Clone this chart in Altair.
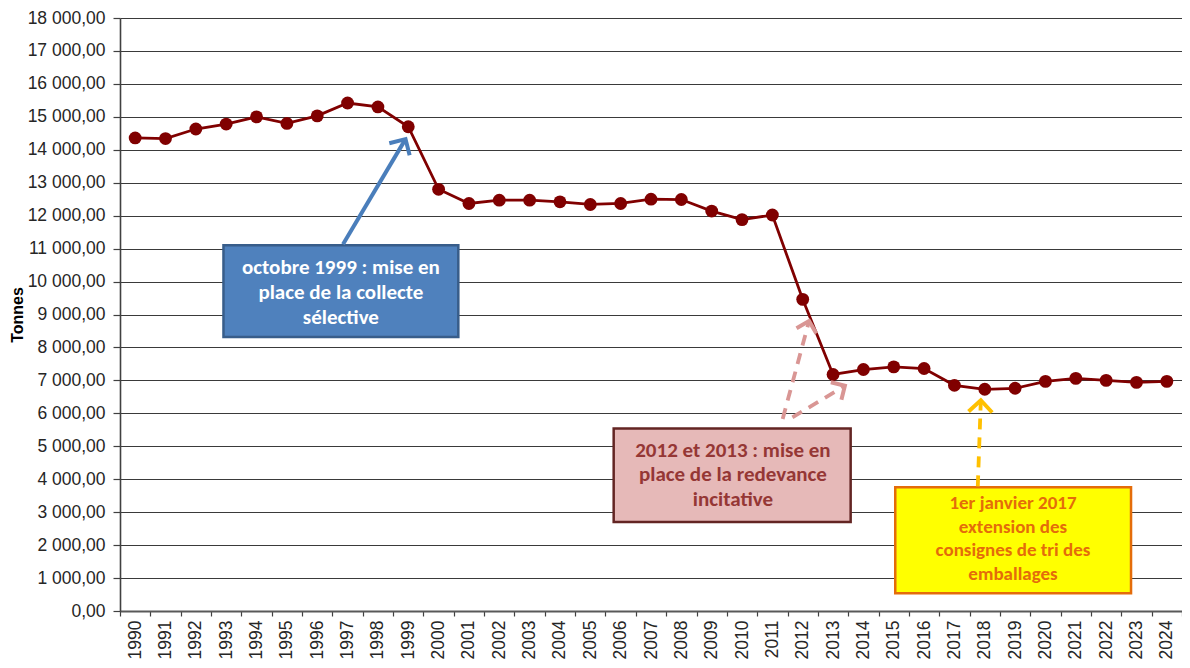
import altair as alt
import pandas as pd

# ---- data ----
years = [str(y) for y in range(1990, 2025)]
tonnes = [14360, 14340, 14630, 14780, 15000, 14800, 15030, 15420, 15300, 14700,
          12800, 12370, 12470, 12470, 12420, 12340, 12370, 12500, 12490, 12140,
          11880, 12020, 9460, 7180, 7330, 7410, 7360, 6850, 6730, 6760,
          6970, 7060, 7000, 6940, 6970]

# annotation boxes (in year / tonnes coordinates)
box_x1 = [1992.91, 2005.77, 2015.05]
box_x2 = [2000.65, 2013.58, 2022.82]
box_y1 = [11102, 5536, 3760]
box_y2 = [8319, 2701, 535]
box_fill = ["#4F81BD", "#E6B9B8", "#FFFF00"]
box_stroke = ["#385D8A", "#632523", "#E46C0A"]

# annotation texts
txt_lines = ["octobre 1999 : mise en", "place de la collecte", "sélective",
             "2012 et 2013 : mise en", "place de la redevance", "incitative",
             "1er janvier 2017", "extension des", "consignes de tri des", "emballages"]
txt_x = [1996.78] * 3 + [2009.70] * 3 + [2018.93] * 4
txt_y = [10415, 9659, 8885, 4871, 4114, 3358, 3267, 2556, 1845, 1134]
txt_color = ["#FFFFFF"] * 3 + ["#953735"] * 3 + ["#E46C0A"] * 4
txt_size = [21] * 6 + [19] * 4

# arrows: tail -> tip
arr_x1 = [1996.85, 2011.34, 2011.66, 2017.77]
arr_y1 = [11133, 5830, 5878, 3782]
arr_x2 = [1998.91, 2012.21, 2013.39, 2017.87]
arr_y2 = [14324, 8803, 6837, 6398]
arr_angle = [30.8, 15.1, 58.9, 2.2]
arr_color = ["#4A7EBB", "#D99694", "#D99694", "#FFC000"]
arr_size = [560, 420, 420, 560]
arr_dashed = [False, True, True, True]

df = pd.DataFrame({"year": years, "tonnes": tonnes})
boxes = pd.DataFrame({"x1": box_x1, "x2": box_x2, "y1": box_y1, "y2": box_y2,
                      "fill": box_fill, "stroke": box_stroke})
texts = pd.DataFrame({"x": txt_x, "y": txt_y, "t": txt_lines, "c": txt_color,
                      "fs": txt_size})
arrows = pd.DataFrame({"x1": arr_x1, "y1": arr_y1, "x2": arr_x2, "y2": arr_y2,
                       "angle": arr_angle, "c": arr_color, "s": arr_size,
                       "dashed": arr_dashed})

W, H = 1062, 593
LABEL_FONT = "Liberation Sans"
BOX_FONT = "Carlito, Lato, sans-serif"

yscale = alt.Scale(domain=[0, 18000], nice=False)
yaxis = alt.Axis(
    values=list(range(0, 18001, 1000)), labelOverlap=False,
    labelExpr="replace(replace(format(datum.value, ',.2f'), ',', ' '), '.', ',')",
    title="Tonnes", titleFont=LABEL_FONT, titleFontSize=16, titleFontWeight="bold",
    titleColor="#000000", titlePadding=2,
    grid=True, gridColor="#3A3A3A", gridWidth=1.2,
    domainColor="#404040", domainWidth=1.6, tickColor="#404040", tickWidth=1.2,
    tickSize=7, labelFont=LABEL_FONT, labelFontSize=17.5, labelColor="#262626",
    labelPadding=8,
)
xaxis = alt.Axis(
    title=None, labelAngle=270, tickBand="extent", grid=False, labelOverlap=False,
    labelFont=LABEL_FONT, labelFontSize=17.5, labelColor="#262626", labelPadding=4,
    tickSize=5, tickColor="#404040", tickWidth=1.2,
    domainColor="#595959", domainWidth=2,
)
xband = alt.X("year:N", scale=alt.Scale(paddingInner=0, paddingOuter=0), axis=xaxis,
              sort=years)


def Y(field):
    return alt.Y(field, scale=yscale, axis=yaxis)


line = alt.Chart(df).mark_line(color="#800000", strokeWidth=2.8).encode(
    x=xband, y=Y("tonnes:Q"))
pts = alt.Chart(df).mark_point(filled=True, opacity=1, color="#800000", size=165).encode(
    x=xband, y=Y("tonnes:Q"))
data_layer = alt.layer(line, pts)

xq = alt.Scale(domain=[1989.5, 2024.5], nice=False, zero=False)

rects = alt.Chart(boxes).mark_rect(strokeWidth=2.5).encode(
    x=alt.X("x1:Q", scale=xq, axis=None), x2="x2:Q",
    y=Y("y1:Q"), y2="y2:Q",
    fill=alt.Fill("fill:N", scale=None), stroke=alt.Stroke("stroke:N", scale=None))

labels = alt.Chart(texts).mark_text(font=BOX_FONT, fontWeight="bold",
                                    align="center", baseline="middle").encode(
    x=alt.X("x:Q", scale=xq, axis=None), y=Y("y:Q"),
    text="t:N", color=alt.Color("c:N", scale=None),
    size=alt.Size("fs:Q", scale=None))

solid = alt.Chart(arrows).transform_filter("!datum.dashed").mark_rule(strokeWidth=4).encode(
    x=alt.X("x1:Q", scale=xq, axis=None), x2="x2:Q",
    y=Y("y1:Q"), y2="y2:Q", color=alt.Color("c:N", scale=None))
dashed = alt.Chart(arrows).transform_filter("datum.dashed").mark_rule(
    strokeWidth=3.8, strokeDash=[11, 8]).encode(
    x=alt.X("x1:Q", scale=xq, axis=None), x2="x2:Q",
    y=Y("y1:Q"), y2="y2:Q", color=alt.Color("c:N", scale=None))
heads = alt.Chart(arrows).mark_point(shape="M -1 1 L 0 0 L 1 1", filled=False, opacity=1,
                                     strokeWidth=4, strokeJoin="miter").encode(
    x=alt.X("x2:Q", scale=xq, axis=None), y=Y("y2:Q"),
    angle=alt.Angle("angle:Q", scale=None), size=alt.Size("s:Q", scale=None),
    color=alt.Color("c:N", scale=None))

chart = alt.layer(data_layer, rects, labels, solid, dashed, heads).resolve_scale(
    x="independent").properties(
    width=W, height=H,
    autosize=alt.AutoSizeParams(type="none"),
    padding={"left": 112, "top": 10, "right": 0, "bottom": 49},
    background="#FFFFFF",
).configure_view(stroke=None)

chart.save("out.html", embed_options={"renderer": "svg", "actions": False})
